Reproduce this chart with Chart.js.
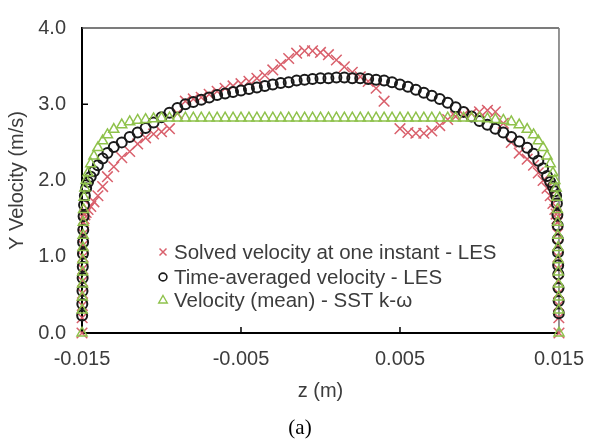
<!DOCTYPE html>
<html>
<head>
<meta charset="utf-8">
<script src="https://cdn.jsdelivr.net/npm/chart.js@4/dist/chart.umd.min.js"></script>
<style>
  html, body { margin: 0; padding: 0; background: #fff; }
  canvas { display: block; }
</style>
</head>
<body>
<canvas id="chart" width="598" height="439"></canvas>
<script>
// Wall-normal positions z (m): refined near both walls, uniform across the core
const zPositions = [
  -0.015, -0.01499, -0.01498, -0.01497, -0.01496, -0.01495, -0.01494, -0.01493, -0.01492, -0.0149,
  -0.01487, -0.01482, -0.01474, -0.01462, -0.01445, -0.01425, -0.014, -0.0137, -0.0134, -0.013,
  -0.0125, -0.012, -0.0115, -0.011, -0.0105, -0.01, -0.0095, -0.009, -0.0085, -0.008,
  -0.0075, -0.007, -0.0065, -0.006, -0.0055, -0.005, -0.0045, -0.004, -0.0035, -0.003,
  -0.0025, -0.002, -0.0015, -0.001, -0.0005, 0, 0.0005, 0.001, 0.0015, 0.002,
  0.0025, 0.003, 0.0035, 0.004, 0.0045, 0.005, 0.0055, 0.006, 0.0065, 0.007,
  0.0075, 0.008, 0.0085, 0.009, 0.0095, 0.01, 0.0105, 0.011, 0.0115, 0.012, 0.0125,
  0.013, 0.0134, 0.0137, 0.014, 0.01425, 0.01445, 0.01462, 0.01474, 0.01482, 0.01487,
  0.0149, 0.01492, 0.01493, 0.01494, 0.01495, 0.01496, 0.01497, 0.01498, 0.01499, 0.015
];

// Instantaneous LES velocity (m/s)
const solvedLES = [
  0, 0.2, 0.36, 0.52, 0.68, 0.84, 1.0, 1.15, 1.3, 1.45,
  1.5, 1.55, 1.58, 1.62, 1.66, 1.72, 1.8, 1.92, 2.05, 2.18,
  2.3, 2.38, 2.48, 2.56, 2.61, 2.64, 2.68, 2.88, 3.04, 3.07,
  3.09, 3.13, 3.17, 3.21, 3.24, 3.27, 3.3, 3.34, 3.38, 3.45,
  3.52, 3.6, 3.67, 3.7, 3.7, 3.68, 3.65, 3.58, 3.49, 3.42,
  3.36, 3.3, 3.21, 3.04, null, 2.68, 2.63, 2.62, 2.62, 2.65,
  2.72, 2.8, 2.84, 2.86, 2.88, 2.9, 2.92, 2.9, 2.75, 2.5, 2.36,
  2.28, 2.2, 2.1, 2.0, 1.9, 1.8, 1.7, 1.62, 1.56, 1.5,
  1.45, 1.3, 1.15, 1.0, 0.84, 0.68, 0.52, 0.36, 0.2, 0
];

// Time-averaged LES velocity (m/s)
const averagedLES = [
  null, 0.23, 0.38, 0.55, 0.72, 0.87, 1.04, 1.19, 1.35, 1.53,
  1.68, 1.8, 1.9, 1.98, 2.05, 2.12, 2.2, 2.29, 2.36, 2.44,
  2.5, 2.57, 2.63, 2.69, 2.76, 2.83, 2.89, 2.95, 3.0, 3.03,
  3.06, 3.09, 3.12, 3.14, 3.16, 3.18, 3.2, 3.22, 3.24, 3.26,
  3.28, 3.29, 3.31, 3.32, 3.33, 3.34, 3.34, 3.35, 3.35, 3.34,
  3.34, 3.33, 3.32, 3.31, 3.29, 3.26, 3.23, 3.19, 3.15, 3.11,
  3.07, 3.02, 2.96, 2.9, 2.84, 2.78, 2.73, 2.68, 2.63, 2.57, 2.51,
  2.43, 2.35, 2.26, 2.16, 2.06, 1.98, 1.92, 1.86, 1.8, 1.7,
  1.55, 1.41, 1.23, 1.06, 0.89, 0.77, 0.59, 0.42, 0.26, null
];

// Mean velocity from the SST k-omega model (m/s)
const meanSST = [
  0, 0.3, 0.47, 0.64, 0.8, 0.96, 1.12, 1.28, 1.45, 1.62,
  1.78, 1.9, 2.0, 2.1, 2.22, 2.32, 2.43, 2.52, 2.6, 2.67,
  2.73, 2.77, 2.79, 2.8, 2.81, 2.82, 2.82, 2.82, 2.82, 2.82,
  2.82, 2.82, 2.82, 2.82, 2.82, 2.82, 2.82, 2.82, 2.82, 2.82,
  2.82, 2.82, 2.82, 2.82, 2.82, 2.82, 2.82, 2.82, 2.82, 2.82,
  2.82, 2.82, 2.82, 2.82, 2.82, 2.82, 2.82, 2.82, 2.82, 2.82,
  2.82, 2.82, 2.82, 2.82, 2.82, 2.82, 2.81, 2.8, 2.79, 2.77, 2.73,
  2.67, 2.6, 2.52, 2.43, 2.32, 2.22, 2.1, 2.0, 1.9, 1.78,
  1.62, 1.45, 1.28, 1.12, 0.96, 0.8, 0.64, 0.47, 0.3, 0
];

const seriesNames = [
  'Solved velocity at one instant - LES',
  'Time-averaged velocity - LES',
  'Velocity (mean) - SST k-\u03c9'
];
const xTickValues = [-0.015, -0.005, 0.005, 0.015];
const xTickLabels = ['-0.015', '-0.005', '0.005', '0.015'];
const yTickValues = [0, 1, 2, 3, 4];
const yTickLabels = ['0.0', '1.0', '2.0', '3.0', '4.0'];
const xAxisTitle = 'z (m)';
const yAxisTitle = 'Y Velocity (m/s)';
const caption = '(a)';

const RED = '#d9606c';
const BLACK = '#1a1a1a';
const GREEN = '#8fc24c';
const TEXT = '#3c3c3c';
const FONT = '"Liberation Sans", Arial, sans-serif';

const toPoints = vals => zPositions.map((z, i) => ({ x: z, y: vals[i] }));

// Box frame (top/right) and the short inward tick marks
const frameTicks = {
  id: 'frameTicks',
  beforeDatasetsDraw(chart) {
    const { ctx, chartArea: a, scales: { x, y } } = chart;
    ctx.save();
    ctx.lineWidth = 1.6;
    ctx.strokeStyle = '#505050';
    ctx.beginPath();
    ctx.moveTo(a.left, a.top);
    ctx.lineTo(a.right, a.top);
    ctx.stroke();
    ctx.strokeStyle = '#7a7a7a';
    ctx.beginPath();
    ctx.moveTo(a.right, a.top);
    ctx.lineTo(a.right, a.bottom);
    ctx.stroke();
    ctx.strokeStyle = '#000';
    ctx.lineWidth = 1.5;
    ctx.beginPath();
    yTickValues.forEach(v => {
      const py = y.getPixelForValue(v);
      if (py > a.top + 2 && py < a.bottom - 2) {
        ctx.moveTo(a.left, py);
        ctx.lineTo(a.left + 6, py);
      }
    });
    xTickValues.forEach(v => {
      const px = x.getPixelForValue(v);
      if (px > a.left + 2 && px < a.right - 2) {
        ctx.moveTo(px, a.bottom);
        ctx.lineTo(px, a.bottom - 6);
      }
    });
    ctx.stroke();
    ctx.restore();
  }
};

// Legend inside the plot, plus the panel caption below
const insideLegend = {
  id: 'insideLegend',
  afterDraw(chart) {
    const { ctx } = chart;
    const mx = 163, tx = 174;
    const rows = [252, 277, 300];
    ctx.save();
    // cross
    ctx.strokeStyle = RED; ctx.lineWidth = 1.5;
    ctx.beginPath();
    ctx.moveTo(mx - 3.5, rows[0] - 3.5); ctx.lineTo(mx + 3.5, rows[0] + 3.5);
    ctx.moveTo(mx - 3.5, rows[0] + 3.5); ctx.lineTo(mx + 3.5, rows[0] - 3.5);
    ctx.stroke();
    // circle
    ctx.strokeStyle = BLACK; ctx.lineWidth = 1.6;
    ctx.beginPath();
    ctx.arc(mx, rows[1], 3.9, 0, Math.PI * 2);
    ctx.stroke();
    // triangle
    ctx.strokeStyle = GREEN; ctx.lineWidth = 1.4;
    ctx.beginPath();
    ctx.moveTo(mx, rows[2] - 4.5);
    ctx.lineTo(mx + 4.3, rows[2] + 3);
    ctx.lineTo(mx - 4.3, rows[2] + 3);
    ctx.closePath();
    ctx.stroke();

    ctx.fillStyle = TEXT;
    ctx.font = '20.5px ' + FONT;
    ctx.textAlign = 'left';
    ctx.textBaseline = 'middle';
    seriesNames.forEach((name, i) => ctx.fillText(name, tx, rows[i] + 1));

    ctx.fillStyle = '#000';
    ctx.font = '21px "Liberation Serif", "Times New Roman", serif';
    ctx.textAlign = 'center';
    ctx.fillText(caption, 300, 428);
    ctx.restore();
  }
};

new Chart(document.getElementById('chart'), {
  type: 'scatter',
  data: {
    datasets: [
      {
        label: seriesNames[0],
        data: toPoints(solvedLES),
        pointStyle: 'crossRot',
        pointRadius: 7.5,
        pointBorderWidth: 1.5,
        borderColor: RED,
        backgroundColor: RED,
        clip: false,
        order: 3
      },
      {
        label: seriesNames[1],
        data: toPoints(averagedLES),
        pointStyle: 'circle',
        pointRadius: 5,
        pointBorderWidth: 2,
        borderColor: BLACK,
        backgroundColor: 'rgba(0,0,0,0)',
        clip: false,
        order: 2
      },
      {
        label: seriesNames[2],
        data: toPoints(meanSST),
        pointStyle: 'triangle',
        pointRadius: 5.8,
        pointBorderWidth: 1.5,
        borderColor: GREEN,
        backgroundColor: 'rgba(0,0,0,0)',
        clip: false,
        order: 1
      }
    ]
  },
  options: {
    responsive: false,
    animation: false,
    devicePixelRatio: 1,
    events: [],
    layout: { padding: { left: 0, top: 20, right: 28, bottom: 0 } },
    plugins: {
      legend: { display: false },
      tooltip: { enabled: false }
    },
    scales: {
      x: {
        type: 'linear',
        min: -0.015,
        max: 0.015,
        grid: { display: false, drawTicks: false },
        border: { display: true, color: '#000', width: 2 },
        afterBuildTicks: s => { s.ticks = xTickValues.map(v => ({ value: v })); },
        afterFit: s => { s.height = 106; },
        ticks: {
          autoSkip: false,
          maxRotation: 0,
          padding: 14,
          color: TEXT,
          font: { family: FONT, size: 20 },
          callback: (v, i) => xTickLabels[i]
        },
        title: {
          display: true,
          text: xAxisTitle,
          color: TEXT,
          font: { family: FONT, size: 20 },
          padding: { top: 0, bottom: 36 }
        }
      },
      y: {
        type: 'linear',
        min: 0,
        max: 4,
        grid: { display: false, drawTicks: false },
        border: { display: true, color: '#000', width: 2 },
        afterBuildTicks: s => { s.ticks = yTickValues.map(v => ({ value: v })); },
        afterFit: s => { s.width = 82; },
        ticks: {
          autoSkip: false,
          padding: 16,
          color: TEXT,
          font: { family: FONT, size: 20 },
          callback: (v, i) => yTickLabels[i]
        },
        title: {
          display: true,
          text: yAxisTitle,
          color: TEXT,
          font: { family: FONT, size: 20 },
          padding: { top: 5, bottom: 0 }
        }
      }
    }
  },
  plugins: [frameTicks, insideLegend]
});
</script>
</body>
</html>
